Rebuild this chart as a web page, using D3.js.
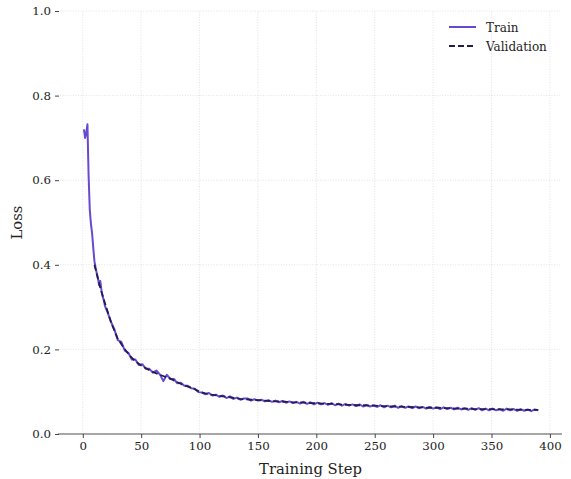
<!DOCTYPE html>
<html>
<head>
<meta charset="utf-8">
<script src="https://cdn.jsdelivr.net/npm/d3@7"></script>
<style>
  body { margin: 0; background: #fff; }
  svg text { font-family: "DejaVu Serif", serif; fill: #222; }
</style>
</head>
<body>
<div id="chart"></div>
<script>
// early steps 1..20, one value per step
var trainEarlySteps = [1, 2, 3, 4, 5, 6, 7, 8, 9, 10, 11, 12, 13, 14, 15, 16, 17, 18, 19, 20];
var trainEarly = [0.720, 0.700, 0.712, 0.732, 0.610, 0.530, 0.497, 0.474, 0.440, 0.408,
                  0.393, 0.380, 0.368, 0.352, 0.362, 0.340, 0.326, 0.316, 0.303, 0.296];
// later steps 21, 24, ... 390
var trainLateStart = 21, trainLateStride = 3;
var trainLate = [0.290, 0.266, 0.248, 0.222, 0.218, 0.197, 0.192, 0.176, 0.176, 0.163,
                 0.165, 0.154, 0.154, 0.145, 0.150, 0.141, 0.125, 0.140, 0.130, 0.130,
                 0.120, 0.121, 0.114, 0.114, 0.108, 0.107, 0.099, 0.098, 0.094, 0.097,
                 0.091, 0.093, 0.088, 0.091, 0.085, 0.089, 0.083, 0.086, 0.081, 0.084,
                 0.084, 0.079, 0.082, 0.079, 0.081, 0.077, 0.080, 0.076, 0.079, 0.075,
                 0.078, 0.074, 0.077, 0.073, 0.076, 0.072, 0.076, 0.071, 0.075, 0.070,
                 0.074, 0.070, 0.073, 0.069, 0.073, 0.068, 0.072, 0.067, 0.071, 0.067,
                 0.070, 0.066, 0.070, 0.065, 0.069, 0.065, 0.068, 0.064, 0.068, 0.063,
                 0.067, 0.063, 0.067, 0.062, 0.066, 0.062, 0.065, 0.061, 0.065, 0.061,
                 0.064, 0.060, 0.064, 0.060, 0.063, 0.059, 0.063, 0.059, 0.062, 0.058,
                 0.062, 0.058, 0.061, 0.057, 0.061, 0.057, 0.061, 0.056, 0.060, 0.056,
                 0.060, 0.056, 0.059, 0.055, 0.060, 0.056, 0.059, 0.055, 0.059, 0.055,
                 0.058, 0.054, 0.058, 0.056];
// validation every 5 steps from 10
var valStart = 10, valStride = 5;
var valLoss = [0.400, 0.345, 0.300, 0.258, 0.225, 0.204, 0.186, 0.172, 0.162, 0.154,
               0.147, 0.141, 0.136, 0.131, 0.124, 0.117, 0.112, 0.107, 0.100, 0.096,
               0.093, 0.091, 0.089, 0.087, 0.085, 0.083, 0.082, 0.081, 0.080, 0.079,
               0.078, 0.077, 0.077, 0.076, 0.075, 0.075, 0.074, 0.073, 0.073, 0.072,
               0.071, 0.071, 0.070, 0.069, 0.069, 0.068, 0.068, 0.067, 0.067, 0.066,
               0.066, 0.065, 0.065, 0.064, 0.064, 0.063, 0.063, 0.062, 0.062, 0.062,
               0.061, 0.061, 0.060, 0.060, 0.060, 0.059, 0.059, 0.059, 0.059, 0.058,
               0.058, 0.058, 0.058, 0.057, 0.057, 0.057, 0.057];
var xTicks = [0, 50, 100, 150, 200, 250, 300, 350, 400];
var yTicks = [0.0, 0.2, 0.4, 0.6, 0.8, 1.0];

var width = 571, height = 479;
var margin = {top: 11, right: 10, bottom: 45, left: 60};
var trainColor = "#6749d3", valColor = "#231c4c";

var train = [];
for (var i = 0; i < trainEarly.length; i++) train.push({step: trainEarlySteps[i], loss: trainEarly[i]});
for (var j = 0; j < trainLate.length; j++) train.push({step: trainLateStart + j * trainLateStride, loss: trainLate[j]});
var val = valLoss.map(function(d, k) { return {step: valStart + k * valStride, loss: d}; });

var svg = d3.select("#chart").append("svg")
    .attr("width", width)
    .attr("height", height);

var x = d3.scaleLinear().domain([-19.5, 409.5]).range([margin.left, width - margin.right]);
var y = d3.scaleLinear().domain([0, 1]).range([height - margin.bottom, margin.top]);

// grid
svg.append("g").selectAll("line").data(yTicks).enter().append("line")
    .attr("x1", x.range()[0]).attr("x2", x.range()[1])
    .attr("y1", function(d) { return y(d); }).attr("y2", function(d) { return y(d); })
    .attr("stroke", "#dcdcdc").attr("stroke-width", 0.8).attr("stroke-dasharray", "1,1.6");
svg.append("g").selectAll("line").data(xTicks).enter().append("line")
    .attr("x1", function(d) { return x(d); }).attr("x2", function(d) { return x(d); })
    .attr("y1", y(0)).attr("y2", y(1))
    .attr("stroke", "#dcdcdc").attr("stroke-width", 0.8).attr("stroke-dasharray", "1,1.6");

// axes
var xAxis = d3.axisBottom(x).tickValues(xTicks).tickSize(4).tickPadding(4).tickFormat(d3.format("d"));
var yAxis = d3.axisLeft(y).tickValues(yTicks).tickSize(4).tickPadding(4).tickFormat(d3.format(".1f"));

svg.append("g")
    .attr("transform", "translate(0," + y(0) + ")")
    .call(xAxis)
    .call(function(g) {
      g.select(".domain").attr("stroke", "#555").attr("d", "M" + (x.range()[0] - 2) + ",0H" + (x.range()[1] + 1));
      g.selectAll(".tick line").attr("stroke", "#444");
      g.selectAll(".tick text").attr("font-size", 11.8).attr("fill", "#222").attr("font-family", "DejaVu Serif");
    });

svg.append("g")
    .attr("transform", "translate(" + (x.range()[0] - 1) + ",0)")
    .call(yAxis)
    .call(function(g) {
      g.select(".domain").remove();
      g.selectAll(".tick line").attr("stroke", "#444");
      g.selectAll(".tick text").attr("font-size", 11.8).attr("fill", "#222").attr("font-family", "DejaVu Serif");
    });

// lines
var line = d3.line()
    .x(function(d) { return x(d.step); })
    .y(function(d) { return y(d.loss); });

svg.append("path").datum(train)
    .attr("d", line)
    .attr("fill", "none")
    .attr("stroke", trainColor)
    .attr("stroke-width", 2)
    .attr("stroke-linejoin", "round");

svg.append("path").datum(val)
    .attr("d", line)
    .attr("fill", "none")
    .attr("stroke", valColor)
    .attr("stroke-width", 1.8)
    .attr("stroke-dasharray", "6,3");

// axis labels
svg.append("text")
    .attr("x", (x.range()[0] + x.range()[1]) / 2)
    .attr("y", 474)
    .attr("text-anchor", "middle")
    .attr("font-size", 14.8)
    .text("Training Step");

svg.append("text")
    .attr("transform", "translate(22," + ((y(0) + y(1)) / 2) + ") rotate(-90)")
    .attr("text-anchor", "middle")
    .attr("font-size", 14.8)
    .text("Loss");

// legend
var legend = svg.append("g").attr("transform", "translate(449,27)");
legend.append("line").attr("x1", 0).attr("x2", 27).attr("y1", 0).attr("y2", 0)
    .attr("stroke", trainColor).attr("stroke-width", 2);
legend.append("text").attr("x", 37).attr("y", 4.5).attr("font-size", 12).text("Train");
legend.append("line").attr("x1", 0).attr("x2", 27).attr("y1", 19).attr("y2", 19)
    .attr("stroke", valColor).attr("stroke-width", 1.8).attr("stroke-dasharray", "6,3");
legend.append("text").attr("x", 37).attr("y", 23.5).attr("font-size", 12).text("Validation");
</script>
</body>
</html>
